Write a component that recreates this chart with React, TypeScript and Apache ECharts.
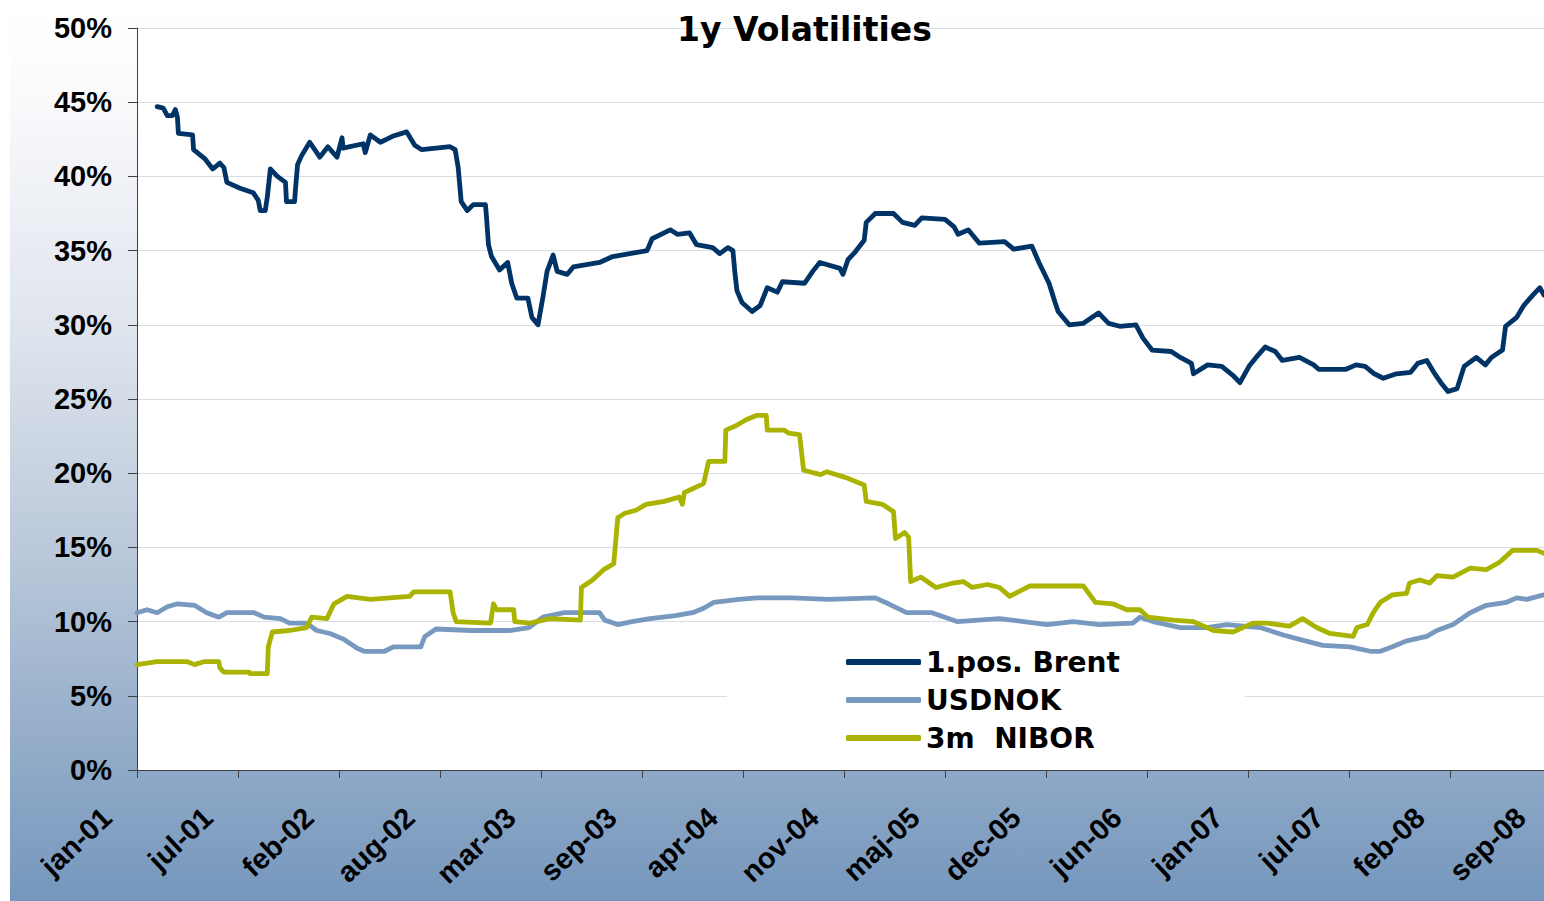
import React, { useEffect, useRef } from "react";
import * as echarts from "echarts";

const xLabels = ["jan-01", "jul-01", "feb-02", "aug-02", "mar-03", "sep-03", "apr-04", "nov-04", "maj-05", "dec-05", "jun-06", "jan-07", "jul-07", "feb-08", "sep-08"];
const seriesNames = ["1.pos. Brent", "USDNOK", "3m  NIBOR"];
const titleText = "1y Volatilities";

// x: time position (100 units per labelled tick step), y: volatility in %
const brent: [number, number][] = [
  [20, 44.7], [26, 44.6], [30, 44.1], [35, 44.1], [38, 44.5], [40, 44.0], [41, 42.9], [55, 42.8], [56, 41.8],
  [67, 41.2], [75, 40.5], [82, 40.9], [86, 40.6], [89, 39.6], [102, 39.2], [115, 38.9], [120, 38.4], [122, 37.7],
  [127, 37.7], [129, 38.6], [132, 40.5], [139, 40.0], [147, 39.6], [148, 38.3], [156, 38.3], [157, 39.2], [159, 40.8],
  [163, 41.4], [171, 42.3], [181, 41.3], [189, 42.0], [198, 41.3], [203, 42.6], [204, 41.9], [224, 42.2], [226, 41.6],
  [231, 42.8], [241, 42.3], [253, 42.7], [267, 43.0], [275, 42.1], [282, 41.8], [310, 42.0], [315, 41.8], [318, 40.6],
  [321, 38.3], [327, 37.7], [333, 38.1], [345, 38.1], [346, 37.3], [348, 35.4], [351, 34.6], [359, 33.7], [367, 34.2],
  [371, 32.8], [376, 31.8], [387, 31.8], [391, 30.5], [397, 30.0], [402, 31.9], [406, 33.6], [412, 34.7], [416, 33.6],
  [426, 33.4], [432, 33.9], [458, 34.2], [471, 34.6], [488, 34.8], [505, 35.0], [510, 35.8], [528, 36.4], [535, 36.1],
  [547, 36.2], [554, 35.4], [570, 35.2], [577, 34.8], [585, 35.2], [590, 35.0], [592, 33.5], [594, 32.3], [599, 31.5],
  [609, 30.9], [617, 31.3], [624, 32.5], [634, 32.2], [639, 32.9], [661, 32.8], [669, 33.6], [676, 34.2], [696, 33.8],
  [699, 33.4], [704, 34.4], [711, 34.9], [720, 35.7], [722, 36.9], [731, 37.5], [749, 37.5], [758, 36.9], [770, 36.7],
  [777, 37.2], [800, 37.1], [809, 36.6], [813, 36.1], [823, 36.4], [834, 35.5], [859, 35.6], [868, 35.1], [886, 35.3],
  [893, 34.2], [903, 32.8], [909, 31.5], [912, 30.9], [923, 30.0], [937, 30.1], [952, 30.8], [962, 30.1], [973, 29.9],
  [989, 30.0], [996, 29.1], [1005, 28.3], [1024, 28.2], [1033, 27.8], [1044, 27.4], [1046, 26.7], [1060, 27.3],
  [1074, 27.2], [1085, 26.6], [1092, 26.1], [1101, 27.2], [1108, 27.8], [1117, 28.5], [1127, 28.2], [1134, 27.6],
  [1151, 27.8], [1165, 27.3], [1170, 27.0], [1197, 27.0], [1207, 27.3], [1216, 27.2], [1225, 26.7], [1234, 26.4],
  [1247, 26.7], [1261, 26.8], [1268, 27.4], [1277, 27.6], [1284, 26.8], [1291, 26.1], [1298, 25.5], [1307, 25.7],
  [1314, 27.2], [1326, 27.8], [1335, 27.3], [1341, 27.8], [1352, 28.3], [1355, 29.9], [1366, 30.5], [1373, 31.3],
  [1382, 32.0], [1389, 32.5], [1393, 32.0],
];

const usdnok: [number, number][] = [
  [0, 10.6], [10, 10.8], [20, 10.6], [30, 11.0], [40, 11.2], [57, 11.1], [69, 10.6], [81, 10.3], [89, 10.6],
  [116, 10.6], [126, 10.3], [142, 10.2], [151, 9.9], [168, 9.9], [178, 9.4], [191, 9.2], [205, 8.8], [218, 8.2],
  [225, 8.0], [245, 8.0], [254, 8.3], [270, 8.3], [281, 8.3], [285, 9.0], [296, 9.5], [331, 9.4], [369, 9.4],
  [388, 9.6], [402, 10.3], [423, 10.6], [458, 10.6], [463, 10.1], [476, 9.8], [490, 10.0], [508, 10.2], [533, 10.4],
  [550, 10.6], [561, 10.9], [571, 11.3], [596, 11.5], [614, 11.6], [649, 11.6], [685, 11.5], [731, 11.6], [744, 11.2],
  [762, 10.6], [787, 10.6], [812, 10.0], [854, 10.2], [901, 9.8], [927, 10.0], [953, 9.8], [986, 9.9], [993, 10.3],
  [1006, 10.0], [1033, 9.6], [1059, 9.6], [1079, 9.8], [1112, 9.6], [1135, 9.1], [1151, 8.8], [1174, 8.4],
  [1201, 8.3], [1221, 8.0], [1231, 8.0], [1243, 8.3], [1257, 8.7], [1277, 9.0], [1287, 9.4], [1303, 9.8],
  [1320, 10.6], [1336, 11.1], [1356, 11.3], [1366, 11.6], [1376, 11.5], [1393, 11.8],
];

const nibor: [number, number][] = [
  [0, 7.1], [20, 7.3], [50, 7.3], [57, 7.1], [66, 7.3], [81, 7.3], [82, 6.9], [86, 6.6], [111, 6.6], [112, 6.5],
  [129, 6.5], [130, 8.3], [134, 9.3], [151, 9.4], [168, 9.6], [173, 10.3], [188, 10.2], [195, 11.2], [208, 11.7],
  [231, 11.5], [270, 11.7], [274, 12.0], [310, 12.0], [313, 10.6], [316, 10.0], [350, 9.9], [353, 11.2], [356, 10.8],
  [373, 10.8], [374, 10.0], [389, 9.9], [409, 10.2], [439, 10.1], [440, 12.3], [451, 12.8], [462, 13.5], [472, 13.9],
  [476, 17.0], [483, 17.3], [494, 17.5], [504, 17.9], [522, 18.1], [537, 18.4], [540, 17.9], [542, 18.7], [561, 19.3],
  [566, 20.8], [582, 20.8], [583, 22.9], [593, 23.2], [603, 23.6], [614, 23.9], [623, 23.9], [624, 22.9], [641, 22.9],
  [645, 22.7], [656, 22.6], [660, 20.2], [677, 19.9], [683, 20.1], [702, 19.7], [720, 19.2], [722, 18.1], [738, 17.9],
  [749, 17.4], [751, 15.6], [760, 16.0], [764, 15.7], [766, 12.7], [776, 13.0], [791, 12.3], [808, 12.6], [818, 12.7],
  [827, 12.3], [842, 12.5], [854, 12.3], [864, 11.7], [884, 12.4], [937, 12.4], [949, 11.3], [966, 11.2], [980, 10.8],
  [993, 10.8], [1001, 10.3], [1026, 10.1], [1046, 10.0], [1066, 9.4], [1085, 9.3], [1105, 9.9], [1119, 9.9],
  [1141, 9.7], [1154, 10.2], [1168, 9.6], [1181, 9.2], [1204, 9.0], [1208, 9.6], [1218, 9.8], [1224, 10.6],
  [1231, 11.3], [1243, 11.8], [1257, 11.9], [1260, 12.6], [1270, 12.8], [1280, 12.6], [1287, 13.1], [1303, 13.0],
  [1320, 13.6], [1336, 13.5], [1349, 14.0], [1362, 14.8], [1386, 14.8], [1393, 14.6],
];

const seriesData = [brent, usdnok, nibor];
const seriesColors = ["#003366", "#7899bf", "#aab300"];

export default function App() {
  const ref = useRef<HTMLDivElement>(null);
  useEffect(() => {
    document.body.style.margin = "0";
    document.body.style.overflow = "hidden";
    const chart = echarts.init(ref.current as HTMLDivElement, null, { renderer: "svg" });
    const axisFont = { fontFamily: "Liberation Sans", fontWeight: "bold" as const, color: "#000", fontSize: 29 };
    chart.setOption({
      animation: false,
      backgroundColor: "#ffffff",
      graphic: {
        elements: [
          {
            type: "rect",
            z: -100,
            silent: true,
            shape: { x: 10, y: 0, width: 1560, height: 901 },
            style: {
              fill: new echarts.graphic.LinearGradient(0, 0, 0, 1, [
                { offset: 0, color: "#ffffff" },
                { offset: 0.08, color: "#fcfcfd" },
                { offset: 0.35, color: "#e1e6ee" },
                { offset: 0.6, color: "#bccadb" },
                { offset: 0.85, color: "#8fa9c7" },
                { offset: 1, color: "#7597bd" },
              ]),
            },
          },
        ],
      },
      title: {
        text: titleText,
        left: 677,
        top: 13,
        padding: 0,
        textStyle: { fontFamily: "DejaVu Sans", fontWeight: "bold", fontSize: 33, color: "#000" },
      },
      legend: {
        orient: "vertical",
        left: 727,
        top: 640,
        backgroundColor: "#ffffff",
        padding: [7, 125, 10, 119],
        itemWidth: 75,
        itemHeight: 6,
        itemGap: 8,
        icon: "roundRect",
        selectedMode: false,
        data: seriesNames,
        textStyle: { fontFamily: "DejaVu Sans", fontWeight: "bold", fontSize: 28, color: "#000", lineHeight: 30 },
      },
      grid: { left: 137, top: 28, right: 1, bottom: 131, show: true, backgroundColor: "#ffffff", borderWidth: 0 },
      xAxis: {
        type: "value",
        min: 0,
        max: 1400,
        interval: 100,
        splitLine: { show: false },
        axisLine: { show: true, lineStyle: { color: "#404040", width: 1 } },
        axisTick: { show: true, length: 8, lineStyle: { color: "#404040", width: 1 } },
        axisLabel: {
          ...axisFont,
          rotate: 43,
          margin: 15,
          padding: [0, 41, 0, 0],
          showMinLabel: true,
          showMaxLabel: true,
          formatter: (v: number) => xLabels[Math.round(v / 100)] ?? "",
        },
      },
      yAxis: {
        type: "value",
        min: 0,
        max: 50,
        interval: 5,
        axisLine: { show: true, lineStyle: { color: "#404040", width: 1 } },
        axisTick: { show: true, length: 9, lineStyle: { color: "#404040", width: 1 } },
        splitLine: { show: true, lineStyle: { color: "#d6dee6", width: 1 } },
        axisLabel: { ...axisFont, margin: 25, formatter: "{value}%" },
      },
      series: seriesNames.map((name, i) => ({
        name,
        type: "line",
        data: seriesData[i],
        showSymbol: false,
        symbol: "none",
        itemStyle: { color: seriesColors[i] },
        lineStyle: { color: seriesColors[i], width: 4.8, cap: "round", join: "round" },
        z: 2 + i,
      })),
    });
    return () => chart.dispose();
  }, []);
  return <div ref={ref} style={{ width: 1552, height: 901 }} />;
}
